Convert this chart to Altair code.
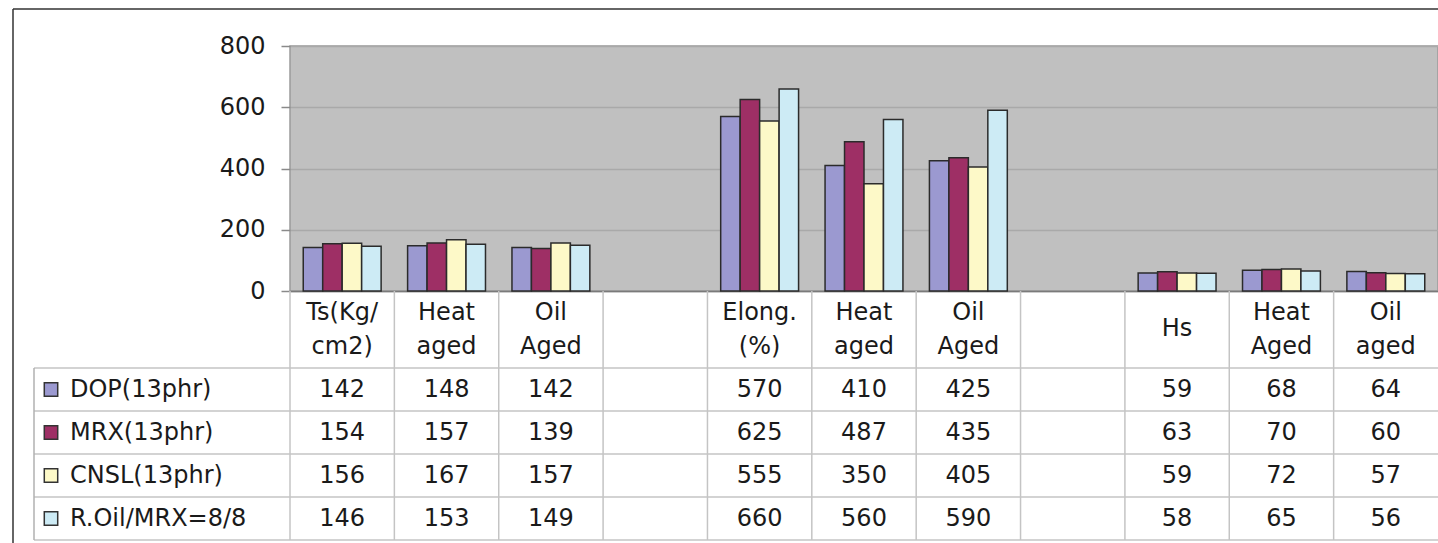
import altair as alt
import pandas as pd

# ---------------- data ----------------
categories = ["Ts(Kg/\ncm2)", "Heat\naged", "Oil\nAged", "",
              "Elong.\n(%)", "Heat\naged", "Oil\nAged", "",
              "Hs", "Heat\nAged", "Oil\naged"]
series = ["DOP(13phr)", "MRX(13phr)", "CNSL(13phr)", "R.Oil/MRX=8/8"]
dop = [142, 148, 142, None, 570, 410, 425, None, 59, 68, 64]
mrx = [154, 157, 139, None, 625, 487, 435, None, 63, 70, 60]
cnsl = [156, 167, 157, None, 555, 350, 405, None, 59, 72, 57]
roil = [146, 153, 149, None, 660, 560, 590, None, 58, 65, 56]
y_ticks = [0, 200, 400, 600, 800]
colors = ["#9b99d0", "#9e2f65", "#fdf9c8", "#cdebf5"]

values_by_series = {s: v for s, v in zip(series, [dop, mrx, cnsl, roil])}
rows = []
for s in series:
    for i, v in enumerate(values_by_series[s]):
        if v is not None:
            rows.append({"idx": i, "series": s, "value": int(v)})
df = pd.DataFrame(rows)
cat_df = pd.DataFrame({"idx": list(range(len(categories))), "label": categories})
cat_df["two"] = cat_df["label"].str.contains("\n")
ser_df = pd.DataFrame({"series": series})
one = pd.DataFrame({"a": [0]})

# ---------------- layout / style ----------------
W, H = 1148, 245
T0, T1 = 322, 494          # table rows (relative to plot top)
FONT = "DejaVu Sans"
FS = 24
TXT = "#1a1a1a"
LINE = "#c4c4c4"

xscale = alt.Scale(domain=list(range(len(categories))), paddingInner=0, paddingOuter=0)
xaxis = alt.Axis(title=None, labels=False, ticks=False, grid=False,
                 domain=True, domainColor="#7a7a7a", domainWidth=1.5)
tscale = alt.Scale(domain=series, range=[T0, T1], paddingInner=0, paddingOuter=0)
cscale = alt.Scale(domain=series, range=colors)

bars = alt.Chart(df).mark_bar(stroke="#2b2b2b", strokeWidth=1.5).encode(
    x=alt.X("idx:O", scale=xscale, axis=xaxis),
    xOffset=alt.XOffset("series:N", sort=series,
                        scale=alt.Scale(domain=series, paddingInner=0, paddingOuter=0.68)),
    y=alt.Y("value:Q", scale=alt.Scale(domain=[0, 800], nice=False),
            axis=alt.Axis(values=y_ticks, title=None, grid=True, gridColor="#a9a9a9",
                          gridWidth=1.5, domain=False, tickColor="#8a8a8a", tickSize=9,
                          tickWidth=1.5, labelFont=FONT, labelFontSize=FS,
                          labelColor=TXT, labelPadding=16)),
    color=alt.Color("series:N", scale=cscale, legend=None),
)

cells = alt.Chart(df).mark_text(font=FONT, fontSize=FS, color=TXT).encode(
    x=alt.X("idx:O", scale=xscale, axis=xaxis),
    y=alt.Y("series:N", scale=tscale, sort=series, axis=None),
    text=alt.Text("value:Q", format="d"),
)

header2 = alt.Chart(cat_df).transform_filter("datum.two").mark_text(
    font=FONT, fontSize=FS, color=TXT, lineBreak="\n", lineHeight=34, baseline="middle").encode(
    x=alt.X("idx:O", scale=xscale, axis=xaxis),
    y=alt.value(267),
    text="label:N",
)
header1 = alt.Chart(cat_df).transform_filter("!datum.two").mark_text(
    font=FONT, fontSize=FS, color=TXT, baseline="middle").encode(
    x=alt.X("idx:O", scale=xscale, axis=xaxis),
    y=alt.value(283),
    text="label:N",
)

col_lines = alt.Chart(cat_df).mark_rule(color=LINE, strokeWidth=1.5).encode(
    x=alt.X("idx:O", scale=xscale, axis=xaxis, bandPosition=0),
    y=alt.value(H), y2=alt.value(T1),
)

row_lines = alt.Chart(ser_df).mark_rule(color=LINE, strokeWidth=1.5).encode(
    y=alt.Y("series:N", scale=tscale, sort=series, axis=None, bandPosition=0),
    x=alt.value(-256), x2=alt.value(W),
)
bottom_line = alt.Chart(ser_df.iloc[-1:]).mark_rule(color=LINE, strokeWidth=1.5).encode(
    y=alt.Y("series:N", scale=tscale, sort=series, axis=None, bandPosition=1),
    x=alt.value(-256), x2=alt.value(W),
)
legend_left = alt.Chart(one).mark_rule(color="#b0b0b0", strokeWidth=1.5).encode(
    x=alt.value(-256), y=alt.value(T0), y2=alt.value(T1),
)

leg_sq = alt.Chart(ser_df).mark_point(shape="square", filled=True, size=180, opacity=1,
                                      stroke="#333333", strokeWidth=1.5).encode(
    x=alt.value(-239),
    y=alt.Y("series:N", scale=tscale, sort=series, axis=None),
    color=alt.Color("series:N", scale=cscale, legend=None),
)
leg_txt = alt.Chart(ser_df).mark_text(font=FONT, fontSize=FS, color=TXT, align="left").encode(
    x=alt.value(-220),
    y=alt.Y("series:N", scale=tscale, sort=series, axis=None),
    text="series:N",
)

frame_v = alt.Chart(one).mark_rule(color="#333333", strokeWidth=1.5).encode(
    x=alt.value(-277), y=alt.value(-37), y2=alt.value(497))
frame_h = alt.Chart(one).mark_rule(color="#333333", strokeWidth=1.5).encode(
    x=alt.value(-277), x2=alt.value(W), y=alt.value(-37))

chart = alt.layer(
    frame_v, frame_h, col_lines, row_lines, bottom_line, legend_left,
    bars, cells, header2, header1, leg_sq, leg_txt,
).resolve_scale(
    y="independent"
).properties(
    width=W, height=H,
    autosize=alt.AutoSizeParams(type="none"),
    padding={"left": 290, "top": 46, "right": 0, "bottom": 252},
).configure_view(
    fill="#c0c0c0", stroke="#9a9a9a", strokeWidth=1.5
)

chart.save("out.html", embed_options={"renderer": "svg", "actions": False})
